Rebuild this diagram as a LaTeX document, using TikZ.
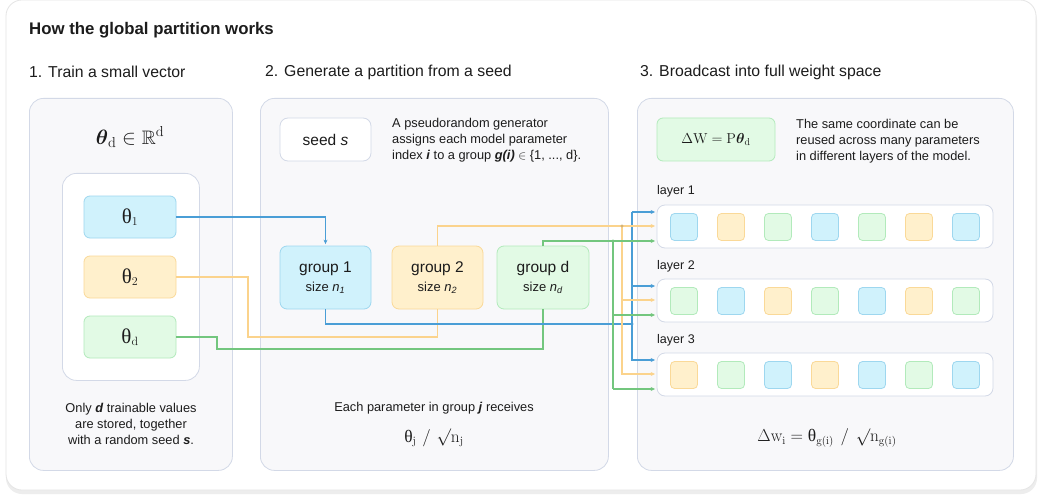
\documentclass[tikz,border=0pt]{standalone}
\usepackage{amsmath,amssymb}
\usepackage[no-math]{fontspec}
\setmainfont{Liberation Sans}
\newfontfamily\serifgr{Liberation Serif}
\usetikzlibrary{arrows.meta,calc}
\definecolor{ink}{HTML}{1C1C1C}
\definecolor{pfill}{HTML}{F8F8FA}
\definecolor{pborder}{HTML}{D3D9E7}
\definecolor{BF}{HTML}{D0F2FC}
\definecolor{BD}{HTML}{9ED7EF}
\definecolor{YF}{HTML}{FFF0CC}
\definecolor{YD}{HTML}{FAD998}
\definecolor{GF}{HTML}{E2FAE5}
\definecolor{GD}{HTML}{B2EABB}
\definecolor{BL}{HTML}{4A9ED6}
\definecolor{YL}{HTML}{FBD38C}
\definecolor{GL}{HTML}{73C67E}
\newcommand{\fsz}[2]{\fontsize{#1}{#2}\selectfont}
\newcommand{\uth}{\text{\serifgr\fontsize{17.5}{20}\selectfont θ}}
\newcommand{\bth}{\text{\serifgr\fontsize{21}{24}\selectfont θ}}
\begin{document}
\begin{tikzpicture}[x=1pt,y=-1pt,text=ink,
  panel/.style={draw=pborder,fill=pfill,rounded corners=14pt,line width=0.8pt,inner sep=0pt},
  wbox/.style={draw=pborder,fill=white,rounded corners=8pt,line width=0.8pt,inner sep=0pt},
  tbox/.style={rounded corners=6pt,line width=0.8pt,minimum width=92pt,minimum height=42pt,inner sep=0pt,font=\fsz{17}{20}},
  grp/.style={rounded corners=7pt,line width=0.8pt,minimum width=91pt,minimum height=63pt,inner sep=0pt,align=center,font=\fsz{15.5}{19}},
  sq/.style={rounded corners=4pt,line width=0.8pt,minimum width=27pt,minimum height=27pt,inner sep=0pt},
  sqB/.style={fill=BF,draw=BD},sqY/.style={fill=YF,draw=YD},sqG/.style={fill=GF,draw=GD},
  conn/.style={line width=1.1pt},
  arr/.style={conn,-{Stealth[length=4.5pt,width=4pt]},shorten >=1.5pt},
  txt/.style={inner sep=0pt},
  sub/.style={txt,anchor=west,font=\fsz{15.8}{18}},
  body/.style={txt,font=\fsz{12.8}{15.8}}]
\useasboundingbox (0,0) rectangle (1040,497);
\fill[white] (0,0) rectangle (1040,497);
% outer card
\fill[black!7,rounded corners=16pt] (6,4) rectangle (1037,494);
\draw[black!10,fill=white,rounded corners=16pt,line width=0.8pt] (6,0) rectangle (1036,490);
% titles
\node[txt,anchor=west,font=\fsz{16.8}{19}\bfseries] (title) at (29,30) {How the global partition works};
\node[sub] (h1) at (29,72) {1. Train a small vector};
\node[sub] (h2) at (265,72) {2. Generate a partition from a seed};
\node[sub] (h3) at (640,72) {3. Broadcast into full weight space};
% panels
\node[panel,minimum width=203pt,minimum height=372pt,anchor=north west] (P1) at (29,98) {};
\node[panel,minimum width=348pt,minimum height=372pt,anchor=north west] (P2) at (260,98) {};
\node[panel,minimum width=376pt,minimum height=372pt,anchor=north west] (P3) at (637,98) {};
% panel 1
\node[txt,font=\fsz{19.5}{22}] (f1) at (130,137) {$\boldsymbol{\theta}_{\mathrm{d}}\in\mathbb{R}^{\mathrm{d}}$};
\node[wbox,rounded corners=14pt,minimum width=137pt,minimum height=207pt,anchor=north west] (inner) at (62,173) {};
\node[tbox,fill=BF,draw=BD] (t1) at (130,217) {$\bth_{\mathrm{1}}$};
\node[tbox,fill=YF,draw=YD] (t2) at (130,277) {$\bth_{\mathrm{2}}$};
\node[tbox,fill=GF,draw=GD] (td) at (130,337) {$\bth_{\mathrm{d}}$};
\node[body,align=center] (c1) at (131,424) {Only \textbf{\textit{d}} trainable values\\are stored, together\\with a random seed \textbf{\textit{s}}.};
% panel 2
\node[wbox,minimum width=91pt,minimum height=43pt,font=\fsz{15.5}{18}] (seed) at (325.5,139.5) {seed \textit{s}};
\node[body,anchor=west,align=left] (d2) at (392,140) {A pseudorandom generator\\assigns each model parameter\\index \textbf{\textit{i}} to a group \textbf{\textit{g(i)}} $\in$ \{1, ..., d\}.};
\node[grp,fill=BF,draw=BD] (g1) at (325.5,277.5) {group 1\\{\fsz{13}{15}size \textit{n}\textsubscript{\textit{1}}}};
\node[grp,fill=YF,draw=YD] (g2) at (437.5,277.5) {group 2\\{\fsz{13}{15}size \textit{n}\textsubscript{\textit{2}}}};
\node[grp,fill=GF,draw=GD,minimum width=92pt] (gd) at (543,277.5) {group d\\{\fsz{13}{15}size \textit{n}\textsubscript{\textit{d}}}};
\node[body] (c2) at (434,408) {Each parameter in group \textbf{\textit{j}} receives};
\node[txt,font=\fsz{16}{20}] (f2) at (434,438) {$\uth_{\mathrm{j}}\mkern6mu/\mkern6mu\surd\mathrm{n}_{\mathrm{j}}$};
% panel 3
\node[rounded corners=6pt,fill=GF,draw=GD,line width=0.8pt,minimum width=118pt,minimum height=43pt,inner sep=0pt,font=\fsz{14.5}{18}] (dw) at (716,139.5) {$\Delta\mathrm{W}=\mathrm{P}\boldsymbol{\theta}_{\mathrm{d}}$};
\node[body,anchor=west,align=left] (d3) at (796,141) {The same coordinate can be\\reused across many parameters\\in different layers of the model.};
\node[txt,anchor=west,font=\fsz{12.5}{15}] (l1) at (657,191) {layer 1};
\node[txt,anchor=west,font=\fsz{12.5}{15}] (l2) at (657,266) {layer 2};
\node[txt,anchor=west,font=\fsz{12.5}{15}] (l3) at (657,340) {layer 3};
\node[wbox,minimum width=336pt,minimum height=43pt] (r1) at (825,226.5) {};
\node[wbox,minimum width=336pt,minimum height=43pt] (r2) at (825,300.5) {};
\node[wbox,minimum width=336pt,minimum height=43pt] (r3) at (825,374.5) {};
\foreach \col [count=\i] in {B,Y,G,B,G,Y,B}
  \node[sq,sq\col] (a\i) at ({684+47*(\i-1)},227) {};
\foreach \col [count=\i] in {G,B,Y,G,B,Y,G}
  \node[sq,sq\col] (b\i) at ({684+47*(\i-1)},301) {};
\foreach \col [count=\i] in {Y,G,B,Y,B,G,B}
  \node[sq,sq\col] (c\i) at ({684+47*(\i-1)},375) {};
\node[txt,font=\fsz{16}{20}] (f3) at (827,438) {$\Delta\mathrm{w}_{\mathrm{i}}=\uth_{\mathrm{g(i)}}\mkern7mu/\mkern7mu\surd\mathrm{n}_{\mathrm{g(i)}}$};
% connectors: theta -> groups
\draw[arr,BL] (t1.east) -| (g1.north);
\coordinate (yk) at (248,337);
\draw[conn,YL] (t2.east) -| (yk) -| (g2.south);
\coordinate (gk) at (217,349);
\draw[conn,GL] (td.east) -| (gk) -| (gd.south);
% groups -> buses
\coordinate (bJ) at (632,324);
\coordinate (bT) at (632,212);
\coordinate (bB) at (632,361);
\coordinate (yT) at (622,226);
\coordinate (yB) at (622,375);
\coordinate (gT) at (613,241);
\coordinate (gB) at (613,389);
\draw[conn,BL] (g1.south) |- (bJ);
\draw[conn,BL] (bT) -- (bB);
\draw[conn,YL] (g2.north) |- (yT) -- (yB);
\draw[conn,GL] (gd.north) |- (gT) -- (gB);
% arrows to rows
\foreach \r/\dy in {r1/0,r2/74,r3/148}{
  \draw[arr,BL] ($(bT)+(0,\dy)$) -- ($(\r.west)+(0,{-14.5})$);
  \draw[arr,YL] ($(yT)+(0,\dy)$) -- ($(\r.west)+(0,{-0.5})$);
  \draw[arr,GL] ($(gT)+(0,\dy)$) -- ($(\r.west)+(0,{14.5})$);
}
\fill[BL] (bJ) circle (1.7pt);
\fill[YL!85!black] (yT) circle (1.7pt);
\fill[GL] (gT) circle (1.7pt);
\end{tikzpicture}
\end{document}
